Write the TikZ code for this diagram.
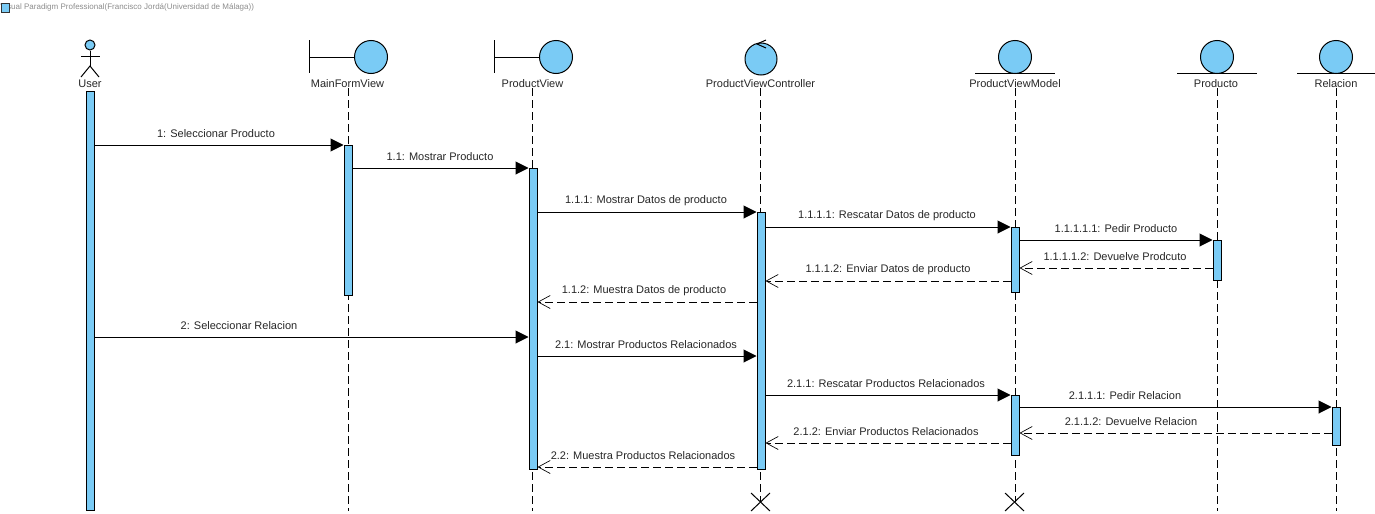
\documentclass[tikz,border=0pt]{standalone}
\usepackage{fontspec}
\setmainfont{Liberation Sans}
\usetikzlibrary{arrows.meta}
\definecolor{vpblue}{HTML}{7ACBF5}
\def\px{0.75pt}
\tikzset{
    lifebar/.style={draw=black, fill=vpblue, line width=0.75pt, rectangle, anchor=north, inner sep=0pt, minimum width=8*\px},
    headcirc/.style={draw=black, fill=vpblue, line width=0.75pt, circle, inner sep=0pt, minimum size=33*\px},
    lifeline/.style={line width=0.75pt, dash pattern=on 6pt off 3pt},
    symline/.style={line width=0.75pt},
    msgcall/.style={line width=0.75pt, -{Triangle[length=13*\px, width=13*\px]}},
    msgback/.style={line width=0.75pt, dash pattern=on 6pt off 3pt, -{Straight Barb[length=12*\px, width=13*\px, line width=0.5pt]}},
    msglabel/.style={font=\fontsize{8.25}{9.6}\selectfont, text=black!85, inner sep=0pt, yshift=-0.75pt},
    objlabel/.style={font=\fontsize{8.25}{9.6}\selectfont, text=black!85, inner sep=0pt, yshift=-0.75pt}
}
\begin{document}
\begin{tikzpicture}[x=0.75pt, y=-0.75pt]
    \useasboundingbox (0,0) rectangle (1375,514);
    % Banner:
    \node[font=\fontsize{6}{7}\selectfont, text=black!45, inner sep=0pt, anchor=west] (banner) at (0,7) {Visual Paradigm Professional(Francisco Jordá(Universidad de Málaga))};
    \node[draw=black!80, fill=vpblue, line width=0.6pt, rectangle, inner sep=0pt, minimum width=8*\px, minimum height=9*\px, anchor=north west] (bannerbox) at (0.5,3) {};

    % Names:
    \node[objlabel] (userlabel) at (90,83) {User};
    \node[objlabel] (mainlabel) at (347.5,83) {MainFormView};
    \node[objlabel] (viewlabel) at (532.5,83) {ProductView};
    \node[objlabel] (ctrllabel) at (760.5,83) {ProductViewController};
    \node[objlabel] (modellabel) at (1015,83) {ProductViewModel};
    \node[objlabel] (prodlabel) at (1216,83) {Producto};
    \node[objlabel] (rellabel) at (1336,83) {Relacion};

    % Lifelines:
    \coordinate (mainend) at (348,511);
    \coordinate (viewend) at (532.5,511);
    \coordinate (ctrlend) at (760.5,502);
    \coordinate (modelend) at (1015,502);
    \coordinate (prodend) at (1217,511);
    \coordinate (relend) at (1336,511);
    \draw[lifeline] (mainend |- mainlabel.south) -- (mainend);
    \draw[lifeline] (viewend |- viewlabel.south) -- (viewend);
    \draw[lifeline] (ctrlend |- ctrllabel.south) -- (ctrlend);
    \draw[lifeline] (modelend |- modellabel.south) -- (modelend);
    \draw[lifeline] (prodend |- prodlabel.south) -- (prodend);
    \draw[lifeline] (relend |- rellabel.south) -- (relend);

    % Actor:
    \node[headcirc, minimum size=10*\px] (userhead) at (90,45) {};
    \draw[symline] (userhead.south) -- (90,66);
    \draw[symline] (81,56.5) -- (100,56.5);
    \draw[symline] (81,77) -- (90,66) -- (99,77);

    % Boundary objects:
    \node[headcirc] (mainhead) at (371,57) {};
    \draw[symline] (309,40) -- (309,73);
    \draw[symline] (309,57) -- (mainhead.west);
    \node[headcirc] (viewhead) at (556,57) {};
    \draw[symline] (494,40) -- (494,73);
    \draw[symline] (494,57) -- (viewhead.west);

    % Control object:
    \node[headcirc, minimum size=32*\px] (ctrlhead) at (761,59) {};
    \draw[symline] (766,40) -- (757,44) -- (766,48);

    % Entity objects:
    \node[headcirc] (modelhead) at (1015,57) {};
    \draw[symline] (975,73.5) -- (1055,73.5);
    \node[headcirc] (prodhead) at (1217,57) {};
    \draw[symline] (1177,73.5) -- (1257,73.5);
    \node[headcirc] (relhead) at (1336,57) {};
    \draw[symline] (1297,73.5) -- (1375,73.5);

    % Activation bars:
    \node[lifebar, minimum height=419*\px] (userbar) at (90,91) {};
    \node[lifebar, minimum height=150*\px] (mainbar) at (348,145) {};
    \node[lifebar, minimum height=301*\px] (viewbar) at (533,168) {};
    \node[lifebar, minimum height=257*\px] (ctrlbar) at (761,212) {};
    \node[lifebar, minimum height=65*\px] (modelbara) at (1015,227) {};
    \node[lifebar, minimum height=60*\px] (modelbarb) at (1015,395) {};
    \node[lifebar, minimum height=40*\px] (prodbar) at (1217,240) {};
    \node[lifebar, minimum height=38*\px] (relbar) at (1336,407) {};

    % Destroy marks:
    \draw[symline] (751,493) -- (770,511);
    \draw[symline] (770,493) -- (751,511);
    \draw[symline] (1005,493) -- (1024,511);
    \draw[symline] (1024,493) -- (1005,511);

    % Messages:
    \draw[msgcall] (userbar.east |- 0,145) -- (mainbar.west |- 0,145);
    \node[msglabel] (m1) at (216,133) {1: Seleccionar Producto};
    \draw[msgcall] (mainbar.east |- 0,168) -- (viewbar.west |- 0,168);
    \node[msglabel] (m11) at (440,156) {1.1: Mostrar Producto};
    \draw[msgcall] (viewbar.east |- 0,212) -- (ctrlbar.west |- 0,212);
    \node[msglabel] (m111) at (646,200) {1.1.1: Mostrar Datos de producto};
    \draw[msgcall] (ctrlbar.east |- 0,227) -- (modelbara.west |- 0,227);
    \node[msglabel] (m1111) at (887,215) {1.1.1.1: Rescatar Datos de producto};
    \draw[msgcall] (modelbara.east |- 0,240) -- (prodbar.west |- 0,240);
    \node[msglabel] (m11111) at (1116,228) {1.1.1.1.1: Pedir Producto};
    \draw[msgback] (prodbar.west |- 0,268) -- (modelbara.east |- 0,268);
    \node[msglabel] (m11112) at (1115,256) {1.1.1.1.2: Devuelve Prodcuto};
    \draw[msgback] (modelbara.west |- 0,281) -- (ctrlbar.east |- 0,281);
    \node[msglabel] (m1112) at (888,269) {1.1.1.2: Enviar Datos de producto};
    \draw[msgback] (ctrlbar.west |- 0,302) -- (viewbar.east |- 0,302);
    \node[msglabel] (m112) at (644,290) {1.1.2: Muestra Datos de producto};
    \draw[msgcall] (userbar.east |- 0,337) -- (viewbar.west |- 0,337);
    \node[msglabel] (m2) at (239,325) {2: Seleccionar Relacion};
    \draw[msgcall] (viewbar.east |- 0,356) -- (ctrlbar.west |- 0,356);
    \node[msglabel] (m21) at (646,344) {2.1: Mostrar Productos Relacionados};
    \draw[msgcall] (ctrlbar.east |- 0,395) -- (modelbarb.west |- 0,395);
    \node[msglabel] (m211) at (886,383) {2.1.1: Rescatar Productos Relacionados};
    \draw[msgcall] (modelbarb.east |- 0,407) -- (relbar.west |- 0,407);
    \node[msglabel] (m2111) at (1125,395) {2.1.1.1: Pedir Relacion};
    \draw[msgback] (relbar.west |- 0,433) -- (modelbarb.east |- 0,433);
    \node[msglabel] (m2112) at (1131,421) {2.1.1.2: Devuelve Relacion};
    \draw[msgback] (modelbarb.west |- 0,443) -- (ctrlbar.east |- 0,443);
    \node[msglabel] (m212) at (886,431) {2.1.2: Enviar Productos Relacionados};
    \draw[msgback] (ctrlbar.west |- 0,467) -- (viewbar.east |- 0,467);
    \node[msglabel] (m22) at (643,455) {2.2: Muestra Productos Relacionados};
\end{tikzpicture}
\end{document}
